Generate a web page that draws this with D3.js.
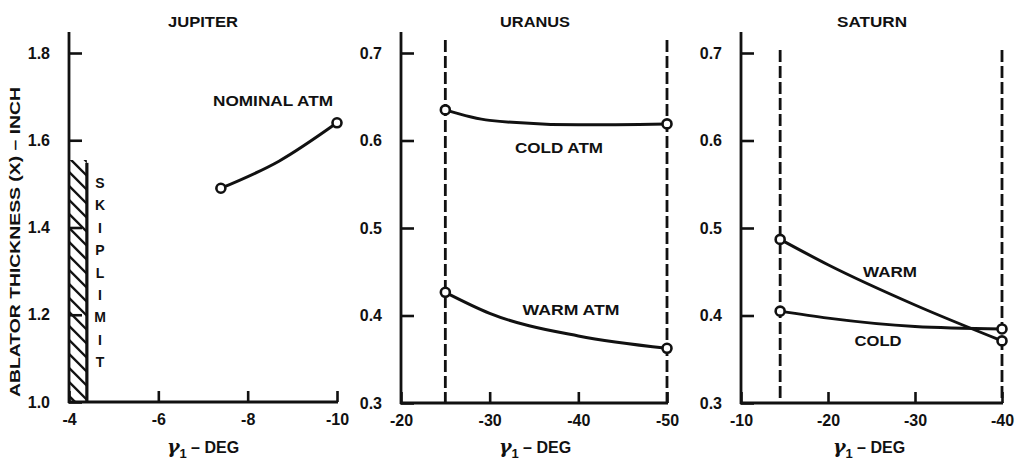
<!DOCTYPE html>
<html>
<head>
<meta charset="utf-8">
<script src="https://cdn.jsdelivr.net/npm/d3@7"></script>
<style>
  html, body { margin: 0; padding: 0; background: #fff; }
  svg { display: block; }
  text { font-family: "Liberation Sans", Arial, Helvetica, sans-serif; font-weight: bold; fill: #111; }
</style>
</head>
<body>
<svg id="chart" width="1017" height="466"></svg>
<script>
// ---- Data ---------------------------------------------------------------
// Jupiter: ablator thickness (inch) vs entry angle, nominal atmosphere
const jupiterGamma   = [-7.4, -8.7, -10];
const jupiterNominal = [1.49, 1.552, 1.64];
const jupiterSkipLimit = -4.4;          // skip-out boundary (deg)
const jupiterSkipTop   = 1.555;         // top of hatched zone (inch)
const jupiterXTicks = [-4, -6, -8, -10];
const jupiterYTicks = [1.0, 1.2, 1.4, 1.6, 1.8];

// Uranus: cold and warm atmospheres
const uranusGamma = [-25, -30, -40, -50];
const uranusCold  = [0.635, 0.623, 0.618, 0.619];
const uranusWarm  = [0.4265, 0.4025, 0.3766, 0.3625];
const uranusBounds = [-25, -50];
const uranusXTicks = [-20, -30, -40, -50];
const uranusYTicks = [0.3, 0.4, 0.5, 0.6, 0.7];

// Saturn: warm and cold atmospheres
const saturnGamma = [-14.5, -20, -30, -40];
const saturnWarm  = [0.487, 0.458, 0.412, 0.371];
const saturnCold  = [0.405, 0.397, 0.3874, 0.3846];
const saturnBounds = [-14.5, -40];
const saturnXTicks = [-10, -20, -30, -40];
const saturnYTicks = [0.3, 0.4, 0.5, 0.6, 0.7];

// ---- Drawing ------------------------------------------------------------
const svg = d3.select("#chart");
const INK = "#111";
const axisTop = 32;
const FONT = "Liberation Sans, Arial, sans-serif";

function pts(xs, ys) { return xs.map((x, i) => [x, ys[i]]); }

function label(g, txt, x, y, len, size, anchor) {
  return g.append("text")
    .attr("x", x).attr("y", y)
    .attr("text-anchor", anchor || "middle")
    .attr("font-size", size)
    .attr("textLength", len)
    .attr("lengthAdjust", "spacingAndGlyphs")
    .text(txt);
}

// plain hyphen for negative tick values
const fmtX = d => String(d).replace("\u2212", "-");
const fmtY = d => d.toFixed(1);

function panel(cfg) {
  const g = svg.append("g");
  const x = d3.scaleLinear().domain(cfg.xDomain).range(cfg.xRange);
  const y = d3.scaleLinear().domain(cfg.yDomain).range(cfg.yRange);

  // axes with inward ticks
  const xAxis = d3.axisBottom(x).tickValues(cfg.xTicks).tickSizeInner(-11).tickSizeOuter(0)
    .tickPadding(12).tickFormat(fmtX);
  const yAxis = d3.axisLeft(y).tickValues(cfg.yTicks).tickSizeInner(-13).tickSizeOuter(0)
    .tickPadding(19).tickFormat(fmtY);

  const gx = g.append("g").attr("transform", `translate(0,${cfg.yRange[0]})`).call(xAxis);
  const gy = g.append("g").attr("transform", `translate(${cfg.xRange[0]},0)`).call(yAxis);
  [gx, gy].forEach(a => {
    a.attr("font-family", FONT);
    a.select(".domain").remove();
    a.selectAll(".tick line").attr("stroke", INK).attr("stroke-width", 2.6);
    a.selectAll(".tick text").attr("fill", INK)
      .style("font-size", "16px").style("font-weight", "bold");
  });
  gx.selectAll(".tick text").attr("dy", "0.71em");

  // axis lines (y axis extends a little above the top tick)
  g.append("line").attr("x1", cfg.xRange[0]).attr("x2", cfg.xRange[0])
    .attr("y1", cfg.yRange[0] + 1).attr("y2", axisTop)
    .attr("stroke", INK).attr("stroke-width", 2.8);
  g.append("line").attr("x1", cfg.xRange[0] - 1).attr("x2", cfg.xRange[1] + 1)
    .attr("y1", cfg.yRange[0]).attr("y2", cfg.yRange[0])
    .attr("stroke", INK).attr("stroke-width", 2.8);

  // title and x-axis label
  label(g, cfg.title, cfg.titleX, 27, cfg.titleLen, 14);
  const xl = g.append("text").attr("x", cfg.xLabelX).attr("y", 453)
    .attr("text-anchor", "middle").attr("font-size", 16);
  xl.append("tspan").attr("font-family", "DejaVu Serif, serif").attr("font-style", "italic")
    .attr("font-weight", "bold").attr("font-size", 19).text("γ");
  xl.append("tspan").attr("font-size", 13).attr("dy", 5).text("1");
  xl.append("tspan").attr("dy", -5).text(" – DEG");

  // dashed boundary lines
  (cfg.bounds || []).forEach(b => {
    g.append("line").attr("x1", x(b)).attr("x2", x(b))
      .attr("y1", cfg.boundTop).attr("y2", cfg.yRange[0])
      .attr("stroke", INK).attr("stroke-width", 2.8)
      .attr("stroke-dasharray", "12,4");
  });

  const line = d3.line().x(d => x(d[0])).y(d => y(d[1])).curve(d3.curveMonotoneX);
  cfg.series.forEach(s => {
    const data = pts(s.x, s.y);
    g.append("path").attr("d", line(data)).attr("fill", "none")
      .attr("stroke", INK).attr("stroke-width", 3);
    [data[0], data[data.length - 1]].forEach(p => {
      g.append("circle").attr("cx", x(p[0])).attr("cy", y(p[1])).attr("r", 4.5)
        .attr("fill", "#fff").attr("stroke", INK).attr("stroke-width", 2.6);
    });
    label(g, s.name, s.lx, s.ly, s.len, 14);
  });

  return { g, x, y };
}

// Jupiter
const jp = panel({
  title: "JUPITER", titleX: 203, titleLen: 70,
  xDomain: [-4, -10], xRange: [69, 337], xTicks: jupiterXTicks,
  yDomain: [1.0, 1.8], yRange: [402, 53], yTicks: jupiterYTicks,
  xLabelX: 203,
  series: [{ name: "NOMINAL ATM", x: jupiterGamma, y: jupiterNominal, lx: 273, ly: 106, len: 120 }]
});

// hatched skip-limit zone
const defs = svg.append("defs");
defs.append("clipPath").attr("id", "skipClip").append("rect")
  .attr("x", jp.x(-4)).attr("y", jp.y(jupiterSkipTop))
  .attr("width", jp.x(jupiterSkipLimit) - jp.x(-4))
  .attr("height", jp.y(1.0) - jp.y(jupiterSkipTop));
const hatch = jp.g.append("g").attr("clip-path", "url(#skipClip)");
const hx0 = jp.x(-4), hx1 = jp.x(jupiterSkipLimit);
d3.range(jp.y(jupiterSkipTop) - 30, jp.y(1.0) + 10, 14).forEach(y0 => {
  hatch.append("line").attr("x1", hx0).attr("y1", y0)
    .attr("x2", hx1 + 2).attr("y2", y0 + (hx1 - hx0) + 2)
    .attr("stroke", INK).attr("stroke-width", 2.4);
});
jp.g.append("line").attr("x1", hx1).attr("x2", hx1)
  .attr("y1", jp.y(jupiterSkipTop) + 3).attr("y2", jp.y(1.0))
  .attr("stroke", INK).attr("stroke-width", 3.2);
"SKIPLIMIT".split("").forEach((ch, i) => {
  jp.g.append("text").attr("x", 100).attr("y", 188 + i * 22.4)
    .attr("text-anchor", "middle").attr("font-size", 14).text(ch);
});

// y-axis title
svg.append("text").attr("transform", "translate(20,242) rotate(-90)")
  .attr("text-anchor", "middle").attr("font-size", 14)
  .attr("textLength", 310).attr("lengthAdjust", "spacingAndGlyphs")
  .text("ABLATOR THICKNESS (X) – INCH");

// Uranus
panel({
  title: "URANUS", titleX: 535, titleLen: 70,
  xDomain: [-20, -50], xRange: [401, 667], xTicks: uranusXTicks,
  yDomain: [0.3, 0.7], yRange: [403, 53], yTicks: uranusYTicks,
  xLabelX: 535, bounds: uranusBounds, boundTop: 40,
  series: [
    { name: "COLD ATM", x: uranusGamma, y: uranusCold, lx: 559, ly: 153, len: 88 },
    { name: "WARM ATM", x: uranusGamma, y: uranusWarm, lx: 571, ly: 315, len: 97 }
  ]
});

// Saturn
panel({
  title: "SATURN", titleX: 872, titleLen: 70,
  xDomain: [-10, -40], xRange: [741, 1002], xTicks: saturnXTicks,
  yDomain: [0.3, 0.7], yRange: [403, 53], yTicks: saturnYTicks,
  xLabelX: 869, bounds: saturnBounds, boundTop: 50,
  series: [
    { name: "WARM", x: saturnGamma, y: saturnWarm, lx: 890, ly: 277, len: 54 },
    { name: "COLD", x: saturnGamma, y: saturnCold, lx: 878, ly: 346, len: 47 }
  ]
});
</script>
</body>
</html>
